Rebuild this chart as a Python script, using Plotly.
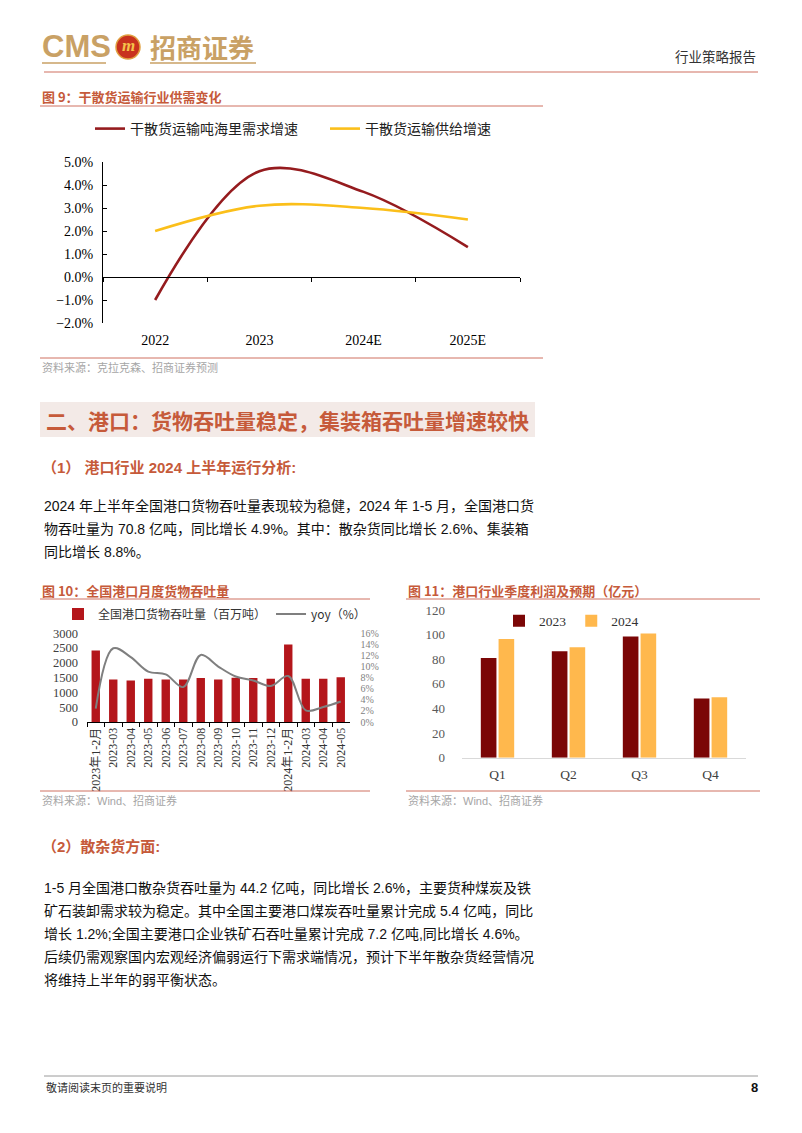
import plotly.graph_objects as go

W, H = 802, 1133
def X(px): return px / W
def Y(py): return 1 - py / H

# ---------------- data ----------------
years = ["2022", "2023", "2024E", "2025E"]
demand = [-1.0, 4.6, 3.7, 1.3]
supply = [2.0, 3.1, 3.0, 2.5]

months = ["2023年1-2月", "2023-03", "2023-04", "2023-05", "2023-06", "2023-07",
          "2023-08", "2023-09", "2023-10", "2023-11", "2023-12", "2024年1-2月",
          "2024-03", "2024-04", "2024-05"]
throughput = [2420, 1440, 1405, 1460, 1440, 1440, 1485, 1440, 1495, 1485, 1460,
              2625, 1460, 1460, 1515]
yoy = [2.4, 13.3, 11.7, 9.1, 8.6, 6.3, 12.1, 10.0, 8.2, 7.5, 6.5, 8.3, 2.1, 2.7, 3.7]

quarters = ["Q1", "Q2", "Q3", "Q4"]
profit_2023 = [81.0, 86.4, 98.4, 48.1]
profit_2024 = [96.5, 89.7, 100.9, 49.2]

# ---------------- styles ----------------
CJK = "Noto Sans CJK SC"
BODY = "Liberation Sans, Noto Sans CJK SC"
SERIF = "Liberation Serif, Noto Sans CJK SC"
ACCENT = "#C65A3A"
RULE = "#CF7060"
GOLD = "#C9A165"
SRC = "#A6A6A6"

fig = go.Figure()

# ---- chart 1 ----
fig.add_trace(go.Scatter(x=years, y=demand, name="干散货运输吨海里需求增速", mode="lines",
                         line=dict(color="#951B1E", width=2.6, shape="spline"),
                         xaxis="x", yaxis="y", legend="legend"))
fig.add_trace(go.Scatter(x=years, y=supply, name="干散货运输供给增速", mode="lines",
                         line=dict(color="#FBBF1A", width=2.6, shape="spline"),
                         xaxis="x", yaxis="y", legend="legend"))

# ---- chart 2 ----
fig.add_trace(go.Bar(x=months, y=throughput, name="全国港口货物吞吐量（百万吨）",
                     marker=dict(color="#B4161B", line=dict(width=0)), width=0.48,
                     xaxis="x2", yaxis="y2", legend="legend2"))
fig.add_trace(go.Scatter(x=months, y=yoy, name="yoy（%）", mode="lines",
                         line=dict(color="#7F7F7F", width=2, shape="spline"),
                         xaxis="x2", yaxis="y3", legend="legend2"))

# ---- chart 3 ----
fig.add_trace(go.Bar(x=quarters, y=profit_2023, name="2023",
                     marker=dict(color="#7B0606", line=dict(width=0)),
                     xaxis="x3", yaxis="y4", legend="legend3"))
fig.add_trace(go.Bar(x=quarters, y=profit_2024, name="2024",
                     marker=dict(color="#FFB84D", line=dict(width=0)),
                     xaxis="x3", yaxis="y4", legend="legend3"))

c1_bot, c1_top = 323, 162
zero_px = c1_bot - (c1_bot - c1_top) * 2 / 7

fig.update_layout(
    width=W, height=H, margin=dict(l=0, r=0, t=0, b=0, pad=0, autoexpand=False),
    paper_bgcolor="white", plot_bgcolor="white",
    barmode="group", bargap=0.5, bargroupgap=0.12,
    showlegend=True,
    font=dict(family=BODY, color="#222222"),
    # chart 1 axes
    xaxis=dict(domain=[X(103), X(520)], anchor="free", position=Y(zero_px),
               type="category", range=[-0.5, 3.5], showline=True, linecolor="#000000",
               linewidth=1, ticks="outside", tickson="boundaries", ticklen=4,
               tickcolor="#000000", showgrid=False, zeroline=False, ticklabelstandoff=50,
               automargin=False,
               tickfont=dict(family=SERIF, size=14, color="#000000")),
    yaxis=dict(domain=[Y(c1_bot), Y(c1_top)], anchor="x", range=[-2, 5], dtick=1,
               tickformat=".1f", ticksuffix="%", showline=True, linecolor="#000000",
               linewidth=1, ticks="inside", ticklen=4, tickcolor="#000000",
               showgrid=False, zeroline=False, ticklabelstandoff=6, automargin=False,
               tickfont=dict(family=SERIF, size=14, color="#000000")),
    # chart 2 axes
    xaxis2=dict(domain=[X(87), X(349.5)], anchor="y2", type="category",
                range=[-0.5, 14.5], showline=True, linecolor="#000000", linewidth=1,
                ticks="outside", tickson="boundaries", ticklen=4, tickcolor="#000000",
                tickangle=-90, showgrid=False, zeroline=False, automargin=False,
                tickfont=dict(family=SERIF, size=12, color="#333333")),
    yaxis2=dict(domain=[Y(722), Y(633.3)], anchor="x2", range=[0, 3000], dtick=500,
                showline=False, showgrid=False, zeroline=False, ticks="",
                ticklabelstandoff=8, automargin=False,
                tickfont=dict(family=SERIF, size=12.5, color="#404040")),
    yaxis3=dict(domain=[Y(722), Y(633.3)], anchor="x2", overlaying="y2", side="right",
                range=[0, 16], dtick=2, ticksuffix="%", showline=False, showgrid=False,
                zeroline=False, ticks="", ticklabelstandoff=10, automargin=False,
                tickfont=dict(family=SERIF, size=10, color="#7F7F7F")),
    # chart 3 axes
    xaxis3=dict(domain=[X(462), X(746)], anchor="y4", type="category",
                range=[-0.5, 3.5], showline=True, linecolor="#D9D9D9", linewidth=1,
                ticks="", showgrid=False, zeroline=False, ticklabelstandoff=4,
                automargin=False,
                tickfont=dict(family=SERIF, size=13.5, color="#404040")),
    yaxis4=dict(domain=[Y(757.7), Y(610)], anchor="x3", range=[0, 120], dtick=20,
                showline=False, showgrid=False, zeroline=False, ticks="",
                ticklabelstandoff=16, automargin=False,
                tickfont=dict(family=SERIF, size=13, color="#595959")),
    legend=dict(x=X(90), y=Y(129), xanchor="left", yanchor="middle", orientation="h",
                font=dict(family=CJK, size=14, color="#222222"),
                bgcolor="rgba(0,0,0,0)", entrywidth=190, itemwidth=30),
    legend2=dict(x=X(58), y=Y(614), xanchor="left", yanchor="middle", orientation="h",
                 font=dict(family=CJK, size=12, color="#333333"),
                 bgcolor="rgba(0,0,0,0)", itemwidth=30),
    legend3=dict(x=X(499), y=Y(621), xanchor="left", yanchor="middle", orientation="h",
                 font=dict(family=SERIF, size=13.5, color="#333333"),
                 bgcolor="rgba(0,0,0,0)", itemwidth=30),
)

shapes = []
def hline(x0, x1, y, color, width=1):
    shapes.append(dict(type="line", xref="paper", yref="paper", x0=X(x0), x1=X(x1),
                       y0=Y(y), y1=Y(y), line=dict(color=color, width=width)))

# header rules
hline(44, 758, 72, RULE, 1.2)
hline(42, 106, 63, GOLD, 1.5)
hline(150, 256, 63, GOLD, 1.5)
# logo circle
shapes.append(dict(type="circle", xref="paper", yref="paper", x0=X(116), x1=X(140),
                   y0=Y(59), y1=Y(35), fillcolor="#C8321E", line=dict(color="#E0A040", width=1.5)))
# figure rules
hline(40, 543, 106, RULE)
hline(40, 543, 358, RULE)
hline(40, 370, 599, RULE)
hline(40, 370, 791, RULE)
hline(406, 760, 599, RULE)
hline(406, 760, 791, RULE)
# footer rule
hline(44, 758, 1076, "#9A9A9A", 1)
# section heading box
shapes.append(dict(type="rect", xref="paper", yref="paper", x0=X(40), x1=X(535),
                   y0=Y(437), y1=Y(402), fillcolor="#F3EAE7", line=dict(width=0), layer="below"))

annots = []
def text(x, y, s, size, color="#222222", family=BODY, anchor="left", bold=False):
    if bold:
        s = "<b>" + s + "</b>"
    annots.append(dict(x=X(x), y=Y(y), xref="paper", yref="paper", text=s, showarrow=False,
                       xanchor=anchor, yanchor="middle",
                       font=dict(family=family, size=size, color=color)))

# header
text(40, 47, "CMS", 31, GOLD, "Liberation Sans", bold=True)
text(128, 46, "<i>m</i>", 17, "#F4C24A", "Liberation Serif", anchor="center", bold=True)
text(148, 47, "招商证券", 26, GOLD, CJK, bold=True)
text(758, 56, "行业策略报告", 13.5, "#333333", CJK, anchor="right")

# figure 9
text(40, 97, "图 9：干散货运输行业供需变化", 13, ACCENT, CJK, bold=True)
text(40, 367, "资料来源：克拉克森、招商证券预测", 11, SRC, CJK)

# section heading
text(44, 420, "二、港口：货物吞吐量稳定，集装箱吞吐量增速较快", 21, ACCENT, CJK, bold=True)
text(40, 467, "（1） 港口行业 2024 上半年运行分析:", 15, ACCENT, BODY, bold=True)

para1 = ["2024 年上半年全国港口货物吞吐量表现较为稳健，2024 年 1-5 月，全国港口货",
         "物吞吐量为 70.8 亿吨，同比增长 4.9%。其中：散杂货同比增长 2.6%、集装箱",
         "同比增长 8.8%。"]
for i, line in enumerate(para1):
    text(42, 506 + 23 * i, line, 14, "#111111", BODY)

# figure 10 / 11 titles and sources
text(40, 590, "图 10：全国港口月度货物吞吐量", 13, ACCENT, CJK, bold=True)
text(406, 590, "图 11：港口行业季度利润及预期（亿元）", 13, ACCENT, CJK, bold=True)
text(40, 800, "资料来源：Wind、招商证券", 11, SRC, BODY)
text(406, 800, "资料来源：Wind、招商证券", 11, SRC, BODY)

# section (2)
text(40, 846, "（2）散杂货方面:", 15, ACCENT, BODY, bold=True)
para2 = ["1-5 月全国港口散杂货吞吐量为 44.2 亿吨，同比增长 2.6%，主要货种煤炭及铁",
         "矿石装卸需求较为稳定。其中全国主要港口煤炭吞吐量累计完成 5.4 亿吨，同比",
         "增长 1.2%;全国主要港口企业铁矿石吞吐量累计完成 7.2 亿吨,同比增长 4.6%。",
         "后续仍需观察国内宏观经济偏弱运行下需求端情况，预计下半年散杂货经营情况",
         "将维持上半年的弱平衡状态。"]
for i, line in enumerate(para2):
    text(42, 888 + 23 * i, line, 14, "#111111", BODY)

# footer
text(44, 1087, "敬请阅读末页的重要说明", 11, "#333333", CJK)
text(760, 1087, "8", 13, "#111111", "Liberation Sans", anchor="right", bold=True)

fig.update_layout(shapes=shapes, annotations=annots)

fig.write_html("out.html", config={"displayModeBar": False})
